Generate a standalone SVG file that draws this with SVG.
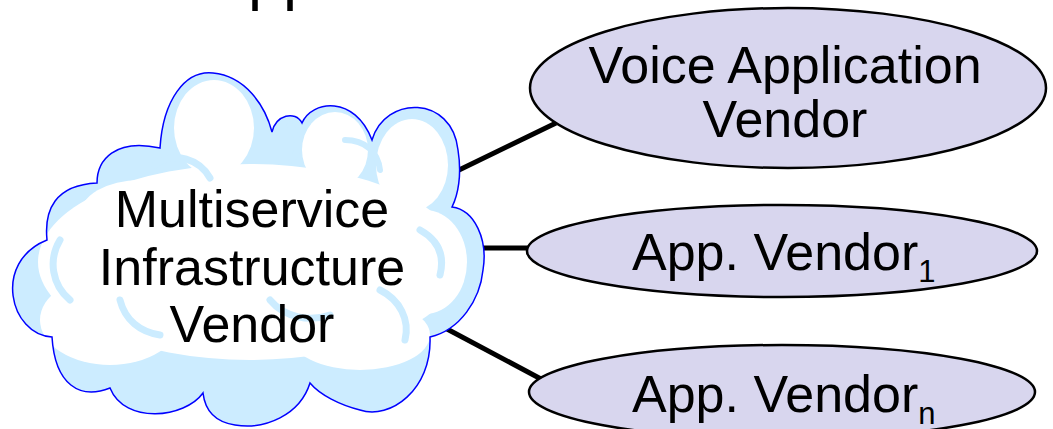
<svg xmlns="http://www.w3.org/2000/svg" width="1053" height="429" viewBox="0 0 1053 429">
<style>
.t{font-family:"Liberation Sans",Arial,sans-serif;font-size:52px;fill:#000;text-anchor:middle}
.tl{font-family:"Liberation Sans",Arial,sans-serif;font-size:52px;fill:#000}
.sub{font-size:31px}
.oval{fill:#D8D6EE;stroke:#000;stroke-width:2.5}
.conn{stroke:#000;stroke-width:5;fill:none}
.hl{fill:none;stroke:#CCECFF;stroke-linecap:round}
</style>
<defs>
<path id="cloudShape" d="M160 148 C163 100,185 70,213 73 C245 76,265 105,272 132 C276 115,295 110,302 123 C312 100,355 95,372 140 C385 95,452 95,458 150 C462 175,458 195,452 207 C475 210,488 240,483 270 C480 300,460 330,430 337 C432 390,390 420,360 410 C340 405,320 395,310 383 C300 415,265 430,235 425 C215 422,205 410,203 393 C185 418,125 425,110 388 C80 400,55 385,52 337 C10 335,-8 262,47 240 C44 210,55 185,97 183 C97 160,115 138,160 148 Z"/>
<clipPath id="cloudClip"><use href="#cloudShape"/></clipPath>
</defs>
<text class="tl" x="248" y="-2" style="font-size:63px">pp</text>
<g id="connectors">
<line class="conn" x1="457" y1="171" x2="556" y2="123"/>
<line class="conn" x1="483" y1="248" x2="530" y2="248"/>
<line class="conn" x1="447" y1="329" x2="541" y2="379"/>
</g>
<g id="cloud">
<use href="#cloudShape" fill="#CCECFF"/>
<g clip-path="url(#cloudClip)" fill="#fff">
<ellipse cx="214" cy="128" rx="40" ry="48"/>
<ellipse cx="335" cy="150" rx="33" ry="38"/>
<ellipse cx="412" cy="165" rx="36" ry="46"/>
<ellipse cx="425" cy="262" rx="42" ry="52"/>
<ellipse cx="140" cy="215" rx="60" ry="35"/>
<ellipse cx="250" cy="262" rx="212" ry="98"/>
<ellipse cx="110" cy="320" rx="70" ry="45"/>
<ellipse cx="360" cy="335" rx="70" ry="35"/>
<path class="hl" stroke-width="7" d="M155 165 C175 150,200 160,210 178"/>
<path class="hl" stroke-width="6" d="M290 125 C300 140,300 150,292 160"/>
<path class="hl" stroke-width="6" d="M345 140 C365 140,378 152,380 170"/>
<path class="hl" stroke-width="7" d="M60 240 C48 260,52 285,70 300"/>
<path class="hl" stroke-width="7" d="M120 300 C125 320,140 332,160 335"/>
<path class="hl" stroke-width="7" d="M270 300 C285 318,310 322,330 315"/>
<path class="hl" stroke-width="7" d="M420 230 C438 240,445 255,440 275"/>
<path class="hl" stroke-width="7" d="M380 290 C400 300,410 320,405 340"/>
</g>
<use href="#cloudShape" fill="none" stroke="#0000FF" stroke-width="1.5"/>
<text class="t" x="252" y="227">Multiservice</text>
<text class="t" x="252" y="285">Infrastructure</text>
<text class="t" x="252" y="342">Vendor</text>
</g>
<g id="voice">
<ellipse class="oval" cx="788" cy="88" rx="258" ry="80"/>
<text class="t" x="785" y="83">Voice Application</text>
<text class="t" x="785" y="137">Vendor</text>
</g>
<g id="vendor1">
<ellipse class="oval" cx="782" cy="251" rx="255" ry="46"/>
<text class="tl" x="632" y="270">App. Vendor<tspan class="sub" dy="12">1</tspan></text>
</g>
<g id="vendorn">
<ellipse class="oval" cx="782" cy="392" rx="253" ry="47"/>
<text class="tl" x="632" y="412">App. Vendor<tspan class="sub" dy="12">n</tspan></text>
</g>
</svg>
